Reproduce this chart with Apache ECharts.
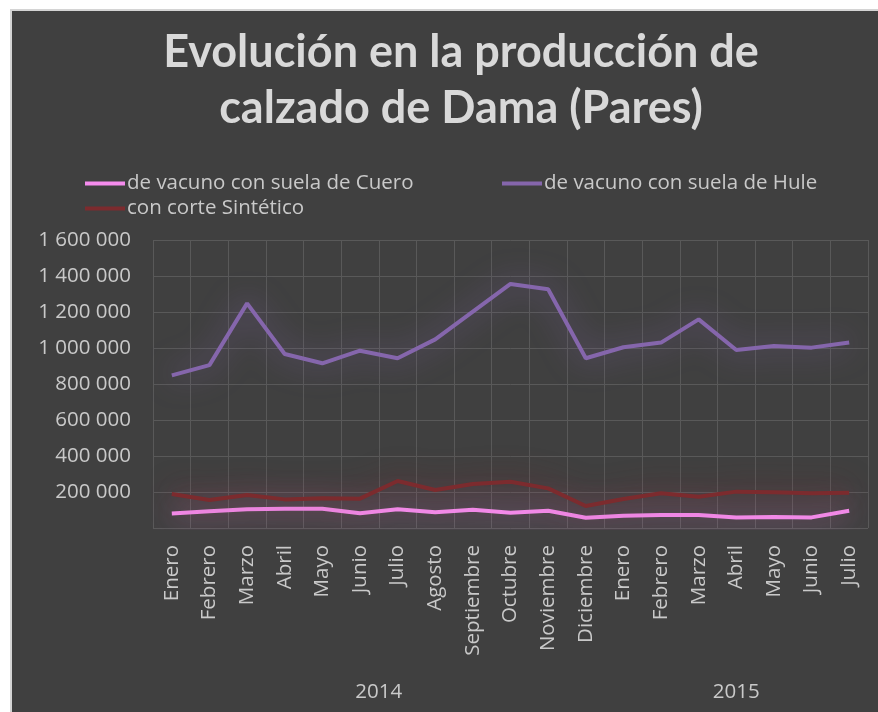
<!DOCTYPE html>
<html>
<head>
<meta charset="utf-8">
<script src="https://cdn.jsdelivr.net/npm/echarts@6/dist/echarts.min.js"></script>
<style>
  html, body { margin: 0; padding: 0; background: #ffffff; }
  #frame {
    position: absolute; left: 10px; top: 9px;
    width: 866px; height: 701px;
    border-left: 2px solid #d4d4d4; border-top: 2px solid #d4d4d4;
    background: #404040;
  }
  #main { width: 866px; height: 701px; }
</style>
</head>
<body>
<div id="frame"><div id="main"></div></div>
<script>
// meses (2014: enero-diciembre, 2015: enero-julio)
const months = [
  "Enero", "Febrero", "Marzo", "Abril", "Mayo", "Junio", "Julio", "Agosto",
  "Septiembre", "Octubre", "Noviembre", "Diciembre",
  "Enero", "Febrero", "Marzo", "Abril", "Mayo", "Junio", "Julio"
];
const years = { 6: "2014", 15.5: "2015" };

const seriesNames = [
  "de vacuno con suela de Cuero",
  "de vacuno con suela de Hule",
  "con corte Sintético"
];

// pares producidos
const cuero = [80000, 93000, 104000, 107000, 107000, 82000, 104000, 87000, 101000, 85000,
  96000, 57000, 68000, 72000, 72000, 59000, 61000, 59000, 96000];
const hule = [848000, 905000, 1248000, 967000, 915000, 985000, 943000, 1048000, 1202000, 1356000,
  1326000, 943000, 1004000, 1030000, 1159000, 989000, 1011000, 1002000, 1031000];
const sintetico = [189000, 156000, 183000, 159000, 165000, 163000, 261000, 211000, 244000, 257000,
  220000, 122000, 161000, 193000, 174000, 202000, 198000, 193000, 196000];

const colors = ["#f58ced", "#8566ac", "#7c2b2e"];
const txt = "#c9c9c9";
const gridCol = "#595959";
const fs = 20.5;

function fmt(v) {
  if (v === 0) return "";
  return String(v).replace(/\B(?=(\d{3})+(?!\d))/g, " ");
}

function mkSeries(name, data, i) {
  return {
    name: name,
    type: "line",
    data: data,
    symbol: "none",
    lineStyle: {
      width: 4,
      color: colors[i],
      shadowBlur: 30,
      shadowColor: colors[i] + "e0"
    },
    itemStyle: { color: colors[i] }
  };
}

function mkLegend(name, left, top) {
  return {
    data: [name],
    left: left,
    top: top,
    padding: 0,
    icon: "rect",
    itemWidth: 40,
    itemHeight: 4,
    itemGap: 0,
    textStyle: { color: txt, fontSize: fs, fontFamily: "Open Sans", padding: [0, 0, 0, -3] }
  };
}

let chart = echarts.init(document.getElementById("main"));
chart.setOption({
  backgroundColor: "#404040",
  animation: false,
  title: {
    text: "Evolución en la producción de\ncalzado de Dama (Pares)",
    left: 444,
    top: 8,
    textAlign: "center",
    textStyle: {
      color: "#d9d9d9",
      fontSize: 45,
      fontWeight: "bold",
      fontFamily: "Lato",
      lineHeight: 56
    }
  },
  legend: [
    mkLegend(seriesNames[0], 73, 162),
    mkLegend(seriesNames[1], 490, 162),
    mkLegend(seriesNames[2], 73, 187)
  ],
  grid: { left: 141, right: 10, top: 229, bottom: 184 },
  xAxis: [
    {
      type: "category",
      data: months,
      boundaryGap: true,
      axisLine: { show: false },
      axisTick: { show: false },
      splitLine: { show: true, interval: 0, lineStyle: { color: gridCol, width: 1 } },
      axisLabel: {
        interval: 0,
        rotate: 90,
        margin: 17,
        color: txt,
        fontSize: fs,
        fontFamily: "Open Sans"
      }
    },
    {
      type: "value",
      min: 0,
      max: 19,
      interval: 0.5,
      position: "bottom",
      offset: 146,
      axisLine: { show: false },
      axisTick: { show: false },
      splitLine: { show: false },
      axisLabel: {
        margin: 8,
        color: txt,
        fontSize: fs,
        fontFamily: "Open Sans",
        formatter: function (v) { return years[v] || ""; }
      }
    }
  ],
  yAxis: {
    type: "value",
    min: 0,
    max: 1600000,
    interval: 200000,
    axisLine: { show: false },
    axisTick: { show: false },
    splitLine: { lineStyle: { color: gridCol, width: 1 } },
    axisLabel: {
      margin: 22,
      color: txt,
      fontSize: fs,
      fontFamily: "Open Sans",
      formatter: fmt
    }
  },
  series: [
    mkSeries(seriesNames[0], cuero, 0),
    mkSeries(seriesNames[1], hule, 1),
    mkSeries(seriesNames[2], sintetico, 2)
  ]
});
</script>
</body>
</html>
